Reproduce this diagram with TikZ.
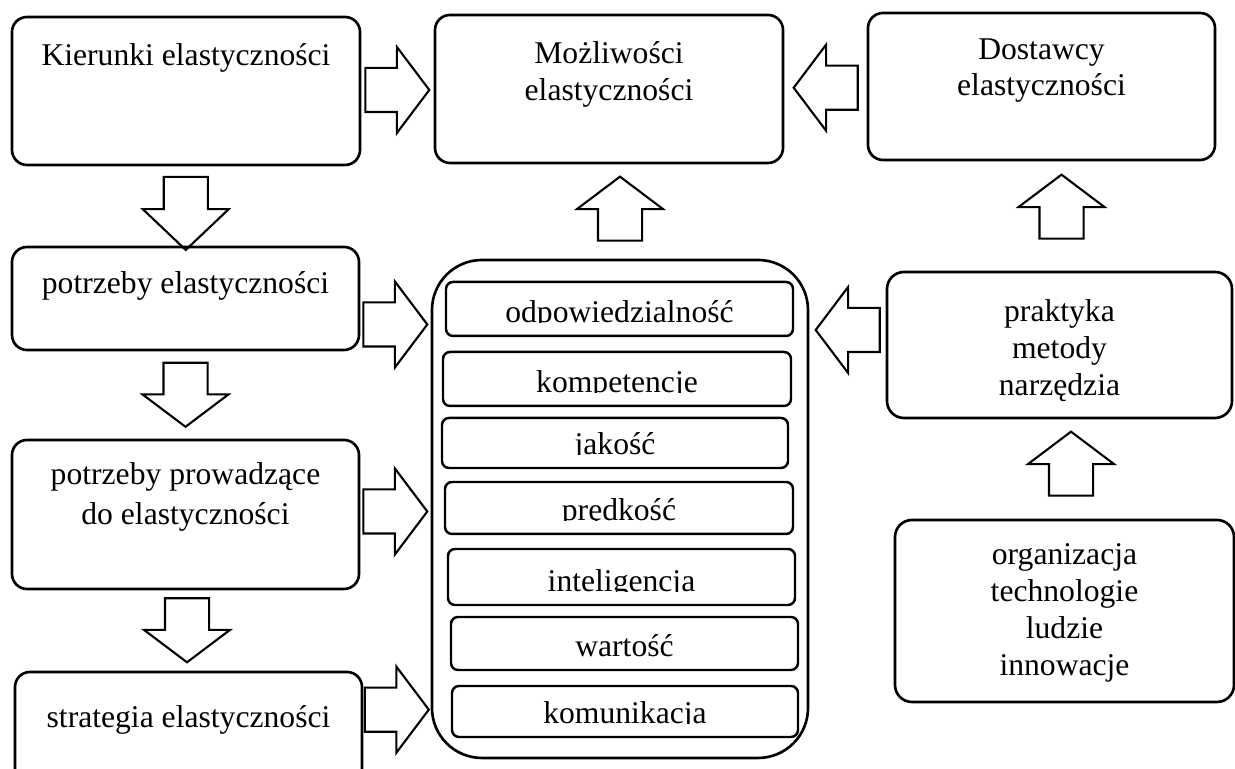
\documentclass[tikz,border=0pt]{standalone}
\usepackage{fontspec}
\setmainfont{Liberation Serif}
\usetikzlibrary{positioning,fit,calc,shapes.arrows}

\tikzset{
  box/.style={draw, rounded corners=0.15cm, line width=0.75pt, inner sep=0pt},
  txt/.style={inner sep=0pt, align=center},
  cell/.style={draw, rounded corners=0.07cm, line width=0.7pt, inner sep=0pt,
    path picture={
      \clip ([yshift=0.13cm]path picture bounding box.south west) rectangle (path picture bounding box.north east);
      \node[draw=none, inner sep=0pt, anchor=base] at ([yshift=0.13cm]path picture bounding box.south) {#1};
    }},
  fat/.style={draw, line width=0.6pt, single arrow, inner sep=0pt, inner ysep=0.21cm,
    single arrow head extend=0.21cm, single arrow tip angle=106, minimum height=0.64cm,
    rotate=#1, xshift=-0.085cm},
}

\begin{document}
\begin{tikzpicture}[font=\fontsize{9}{10.5}\selectfont]
  \useasboundingbox (0,0) rectangle (12.35,7.69);
  \clip (0,0) rectangle (12.35,7.69);

  % top row
  \node[box, fit={(0.12,6.04) (3.60,7.52)}] (kier) {};
  \node[box, fit={(4.35,6.06) (7.83,7.54)}] (moz) {};
  \node[box, fit={(8.68,6.09) (12.15,7.56)}] (dost) {};
  \node[txt, below=0.27cm of kier.north] (kiertxt) {Kierunki elastyczności};
  \node[txt, below=0.27cm of moz.north] (moztxt) {Możliwości\\elastyczności};
  \node[txt, below=0.26cm of dost.north] (dosttxt) {Dostawcy\\elastyczności};

  % left column
  \node[box, fit={(0.12,4.19) (3.59,5.22)}] (pel) {};
  \node[box, fit={(0.12,1.80) (3.59,3.29)}] (ppe) {};
  \node[box, fit={(0.15,-0.40) (3.62,0.97)}] (strat) {};
  \node[txt, below=0.25cm of pel.north] (peltxt) {potrzeby elastyczności};
  \node[txt, below=0.23cm of ppe.north, font=\fontsize{9}{11.4}\selectfont] (ppetxt) {potrzeby prowadzące\\do elastyczności};
  \node[txt, below=0.34cm of strat.north] (strattxt) {strategia elastyczności};

  % middle column
  \node[box, rounded corners=0.5cm, fit={(4.32,0.11) (8.08,5.09)}] (cluster) {};
  \node[cell=odpowiedzialność, fit={(4.46,4.33) (7.93,4.87)}] (c1) {};
  \node[cell=kompetencje, fit={(4.43,3.63) (7.91,4.17)}] (c2) {};
  \node[cell=jakość, fit={(4.42,3.01) (7.88,3.51)}] (c3) {};
  \node[cell=prędkość, fit={(4.45,2.35) (7.93,2.87)}] (c4) {};
  \node[cell=inteligencja, fit={(4.48,1.64) (7.95,2.20)}] (c5) {};
  \node[cell=wartość, fit={(4.51,0.99) (7.98,1.52)}] (c6) {};
  \node[cell=komunikacja, fit={(4.52,0.32) (7.98,0.83)}] (c7) {};

  % right column
  \node[box, rounded corners=0.17cm, fit={(8.87,3.51) (12.32,4.97)}] (prak) {};
  \node[box, rounded corners=0.17cm, fit={(8.95,0.67) (12.34,2.49)}] (org) {};
  \node[txt, below=0.28cm of prak.north] (praktxt) {praktyka\\metody\\narzędzia};
  \node[txt, below=0.24cm of org.north] (orgtxt) {organizacja\\technologie\\ludzie\\innowacje};

  % block arrows
  \node[fat=0] (a1) at ($(kier.east)!.5!(moz.west)$) {};
  \node[fat=180] (a2) at ($(dost.west)!.5!(moz.east)$) {};
  \node[fat=-90, minimum height=0.73cm, single arrow tip angle=93] (d1) at ($(kier.south)!.5!(pel.north) + (0,-0.055)$) {};
  \node[fat=-90] (d2) at ($(pel.south)!.5!(ppe.north)$) {};
  \node[fat=-90] (d3) at ($(ppe.south)!.5!(strat.north)$) {};
  \node[fat=0] (r1) at ($(pel.east)!.5!(pel.east -| cluster.west) + (0,-0.26)$) {};
  \node[fat=0] (r2) at ($(ppe.east)!.5!(ppe.east -| cluster.west) + (0,0.03)$) {};
  \node[fat=0] (r3) at ($(strat.north east)!.5!(strat.north east -| cluster.west) + (0,-0.39)$) {};
  \node[fat=90] (u1) at ($(cluster.north)!.5!(cluster.north |- moz.south) + (0,0.03)$) {};
  \node[fat=90] (u2) at ($(prak.north)!.5!(prak.north |- dost.south) + (0.02,0.095)$) {};
  \node[fat=90] (u3) at ($(org.north)!.5!(org.north |- prak.south) + (0.065,0.055)$) {};
  \node[fat=180] (l1) at ($(prak.west)!.5!(prak.west -| cluster.east) + (0,0.15)$) {};
\end{tikzpicture}
\end{document}
